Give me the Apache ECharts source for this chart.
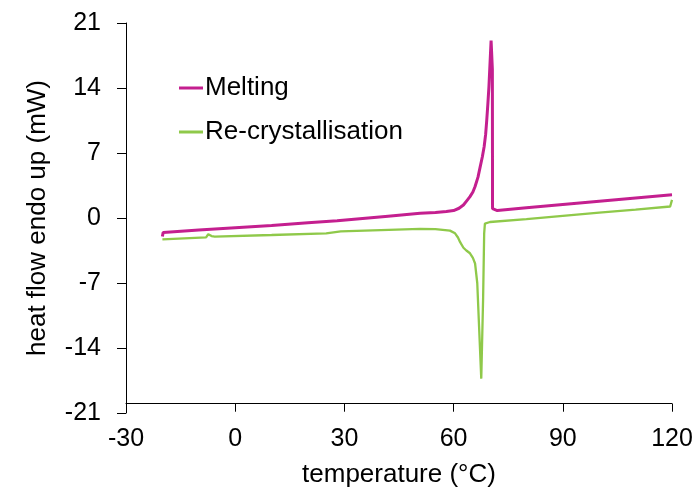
<!DOCTYPE html>
<html>
<head>
<meta charset="utf-8">
<script src="https://cdn.jsdelivr.net/npm/echarts@6/dist/echarts.min.js"></script>
<style>
  html, body { margin: 0; padding: 0; background: #fff; }
  #chart { width: 697px; height: 493px; }
</style>
</head>
<body>
<div id="chart"></div>
<script>
// DSC traces: [temperature °C, heat flow mW]
var melting = [
  [-20, -2.0], [-19.8, -1.55], [-10, -1.3], [0, -1.05], [10, -0.8], [20, -0.5], [28, -0.3],
  [35, -0.05], [42, 0.2], [50.8, 0.5], [55, 0.6], [58, 0.7], [60, 0.8], [61.5, 1.05],
  [62.7, 1.4], [63.6, 1.85], [64.5, 2.3], [65.3, 2.8], [65.9, 3.4], [66.7, 4.4], [67.3, 5.5],
  [67.9, 6.6], [68.4, 7.7], [68.8, 9.0], [69.1, 10.5], [69.4, 12.2], [69.7, 14.1], [70.0, 16.6],
  [70.3, 19.1], [70.65, 16.0], [70.7, 1.0], [71.2, 0.85], [72, 0.8], [80, 1.1], [90, 1.45],
  [100, 1.8], [110, 2.15], [120, 2.5]
];
var recrystallisation = [
  [-20, -2.3], [-19.8, -2.15], [-8, -2.08], [-7.4, -1.75], [-6.5, -1.95], [-5.6, -2.0],
  [10, -1.83], [25, -1.65], [29, -1.45], [40, -1.3], [50.8, -1.18], [55, -1.2], [59, -1.36],
  [60.4, -1.65], [61.2, -2.1], [61.8, -2.6], [62.7, -3.2], [63.5, -3.5], [64.5, -3.8],
  [65.3, -4.3], [65.9, -4.9], [66.5, -7.0], [67, -11.7], [67.6, -17.3], [68.1, -8.8],
  [68.4, -1.65], [68.6, -0.6], [70, -0.43], [80, -0.11], [90, 0.23], [100, 0.57],
  [110, 0.91], [119.5, 1.24], [120, 1.95]
];
var seriesNames = ["Melting", "Re-crystallisation"];
var seriesColors = ["#c41f8f", "#8fc94a"];

var font = "'Liberation Sans', Arial, sans-serif";
var chart = echarts.init(document.getElementById("chart"));
chart.setOption({
  animation: false,
  grid: { left: 126, right: 25, top: 23, bottom: 80 },
  legend: {
    orient: "vertical",
    left: 179,
    top: 75,
    padding: 0,
    itemGap: 18,
    itemWidth: 24,
    itemHeight: 3,
    icon: "rect",
    textStyle: { fontFamily: font, fontSize: 26, color: "#000", padding: [0, 0, 0, -3] },
    data: seriesNames
  },
  xAxis: {
    type: "value",
    min: -30,
    max: 120,
    interval: 30,
    name: "temperature (°C)",
    nameLocation: "middle",
    nameGap: 49,
    nameTextStyle: { fontFamily: font, fontSize: 26, color: "#000" },
    axisLine: { onZero: true, onZeroAxisIndex: 1, lineStyle: { color: "#000", width: 1 } },
    axisTick: { length: 8, lineStyle: { color: "#000" } },
    axisLabel: { margin: 14, fontFamily: font, fontSize: 25, color: "#000" },
    splitLine: { show: false }
  },
  yAxis: [{
    type: "value",
    min: -21,
    max: 21,
    interval: 7,
    name: "heat flow endo up (mW)",
    nameLocation: "middle",
    nameGap: 75,
    nameTextStyle: { fontFamily: font, fontSize: 26, color: "#000" },
    axisLine: { show: true, onZero: false, lineStyle: { color: "#000", width: 1 } },
    axisTick: { show: true, length: 9, lineStyle: { color: "#000" } },
    axisLabel: { margin: 25, fontFamily: font, fontSize: 25, color: "#000" },
    splitLine: { show: false }
  }, {
    // hidden helper axis: its zero sits at -20 mW so the x axis crosses there
    type: "value",
    min: -1,
    max: 41,
    show: false,
    position: "right"
  }],
  series: [{
    name: seriesNames[0],
    type: "line",
    data: melting,
    showSymbol: false,
    color: seriesColors[0],
    lineStyle: { width: 3, color: seriesColors[0] },
    z: 3
  }, {
    name: seriesNames[1],
    type: "line",
    data: recrystallisation,
    showSymbol: false,
    color: seriesColors[1],
    lineStyle: { width: 2.3, color: seriesColors[1] },
    z: 2
  }]
});
</script>
</body>
</html>
